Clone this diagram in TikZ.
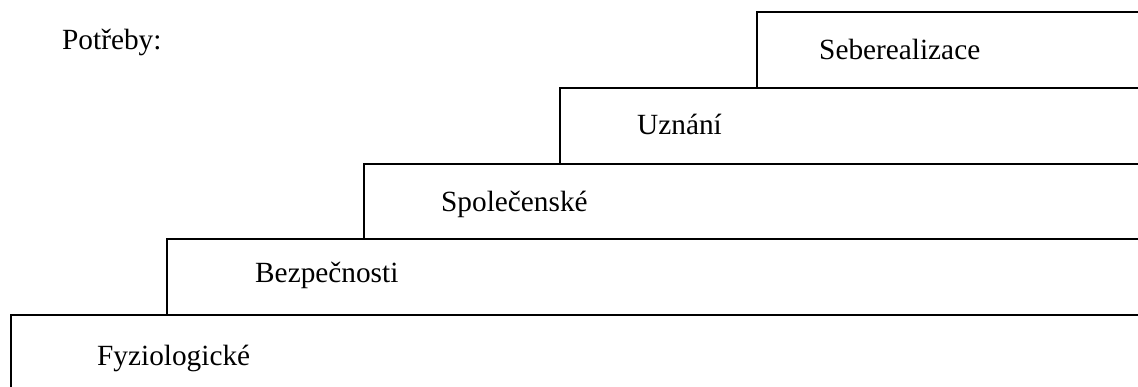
\documentclass[tikz,border=0pt]{standalone}
\usepackage{fontspec}
\setmainfont{Liberation Serif}

\begin{document}
\begin{tikzpicture}[x=1pt,y=-1pt]
	\tikzset{stair/.style={line width=1.6pt,color=black},
		lbl/.style={anchor=base west,inner sep=0pt,font=\fontsize{29.3}{34}\selectfont}}
	\useasboundingbox (0,0) rectangle (1138,387);

	\coordinate (F) at (11,315);
	\coordinate (B) at (167,239);
	\coordinate (S) at (364,164);
	\coordinate (U) at (560,88);
	\coordinate (R) at (757,12);

	\coordinate (Fdown) at (11,387);
	\coordinate (Bdown) at (167,315);
	\coordinate (Sdown) at (364,239);
	\coordinate (Udown) at (560,164);
	\coordinate (Rdown) at (757,88);

	\coordinate (Fend) at (1138,315);
	\coordinate (Bend) at (1138,239);
	\coordinate (Send) at (1138,164);
	\coordinate (Uend) at (1138,88);
	\coordinate (Rend) at (1138,12);

	\draw[stair] (Fdown) -- (F) -- (Fend);
	\draw[stair] (Bdown) -- (B) -- (Bend);
	\draw[stair] (Sdown) -- (S) -- (Send);
	\draw[stair] (Udown) -- (U) -- (Uend);
	\draw[stair] (Rdown) -- (R) -- (Rend);

	\node[lbl] (potreby) at (62,50) {Potřeby:};
	\node[lbl] (fyz) at (97,365) {Fyziologické};
	\node[lbl] (bez) at (255,283) {Bezpečnosti};
	\node[lbl] (spol) at (441,212) {Společenské};
	\node[lbl] (uzn) at (637,135) {Uznání};
	\node[lbl] (seb) at (819,60) {Seberealizace};
\end{tikzpicture}
\end{document}
